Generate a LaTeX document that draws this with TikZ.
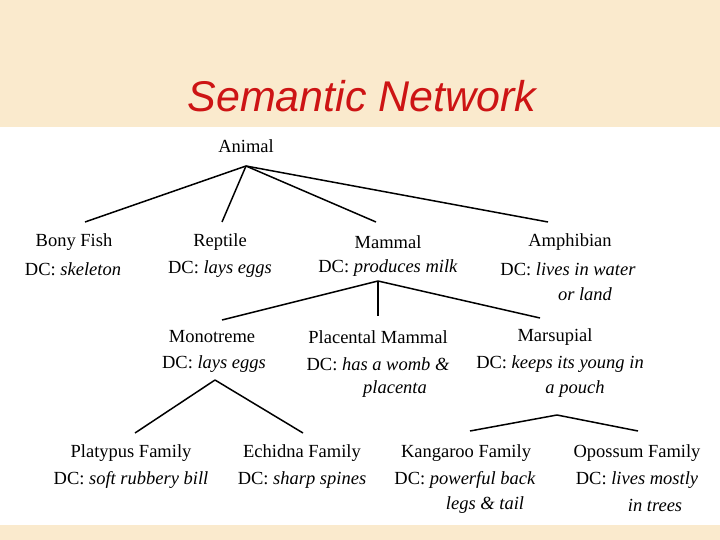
\documentclass[tikz,border=0pt]{standalone}
\usepackage{fontspec}
\setmainfont{Liberation Serif}
\newfontfamily\titlefont{Liberation Sans}
\definecolor{beige}{RGB}{250,234,205}
\definecolor{titlered}{RGB}{205,20,20}
\begin{document}
\begin{tikzpicture}[x=1pt,y=-1pt,
  lbl/.style={inner sep=0pt,font=\fontsize{18.5}{20}\selectfont},
  link/.style={line width=1.5pt}]
\fill[beige] (0,0) rectangle (720,540);
\fill[white] (0,127) rectangle (720,525);
\useasboundingbox (0,0) rectangle (720,540);
\node[inner sep=0pt,font=\titlefont\itshape\fontsize{43}{46}\selectfont,text=titlered] (title) at (362,96) {Semantic Network};
% level 0
\node[lbl] (animal) at (246,146) {Animal};
\coordinate (a0) at (246,166);
% level 1
\node[lbl] (bony) at (74,242) {Bony Fish};
\node[lbl] (bonydc) at (73,269) {DC: \textit{skeleton}};
\node[lbl] (rept) at (220,242) {Reptile};
\node[lbl] (reptdc) at (220,269) {DC: \textit{lays eggs}};
\node[lbl] (mamm) at (388,242) {Mammal};
\node[lbl] (mammdc) at (388,268) {DC: \textit{produces milk}};
\node[lbl] (amph) at (570,242) {Amphibian};
\node[lbl] (amphdc) at (568,269) {DC: \textit{lives in water}};
\node[lbl] (amphdc2) at (585,294) {\textit{or land}};
\coordinate (e1) at (85,222);
\coordinate (e2) at (222,222);
\coordinate (e3) at (376,222);
\coordinate (e4) at (548,222);
\foreach \e in {e1,e2,e3,e4} \draw[link] (a0) -- (\e);
% level 2
\coordinate (m0) at (378,281);
\node[lbl] (mono) at (212,337) {Monotreme};
\node[lbl] (monodc) at (214,364) {DC: \textit{lays eggs}};
\node[lbl] (plac) at (378,337) {Placental Mammal};
\node[lbl] (placdc) at (378,364) {DC: \textit{has a womb \&}};
\node[lbl] (placdc2) at (395,389) {\textit{placenta}};
\node[lbl] (mars) at (555,337) {Marsupial};
\node[lbl] (marsdc) at (560,364) {DC: \textit{keeps its young in}};
\node[lbl] (marsdc2) at (575,389) {\textit{a pouch}};
\coordinate (f1) at (222,320);
\coordinate (f2) at (378,316);
\coordinate (f3) at (540,318);
\foreach \e in {f1,f2,f3} \draw[link] (m0) -- (\e);
% level 3
\coordinate (n0) at (215,380);
\coordinate (p0) at (557,415);
\node[lbl] (plat) at (131,453) {Platypus Family};
\node[lbl] (platdc) at (131,480) {DC: \textit{soft rubbery bill}};
\node[lbl] (echi) at (302,453) {Echidna Family};
\node[lbl] (echidc) at (302,480) {DC: \textit{sharp spines}};
\node[lbl] (kang) at (466,453) {Kangaroo Family};
\node[lbl] (kangdc) at (465,480) {DC: \textit{powerful back}};
\node[lbl] (kangdc2) at (485,505) {\textit{legs \& tail}};
\node[lbl] (opos) at (637,453) {Opossum Family};
\node[lbl] (oposdc) at (637,480) {DC: \textit{lives mostly}};
\node[lbl] (oposdc2) at (655,505) {\textit{in trees}};
\coordinate (g1) at (135,433);
\coordinate (g2) at (303,433);
\coordinate (h1) at (470,431);
\coordinate (h2) at (638,431);
\draw[link] (n0) -- (g1); \draw[link] (n0) -- (g2);
\draw[link] (p0) -- (h1); \draw[link] (p0) -- (h2);
\end{tikzpicture}
\end{document}
